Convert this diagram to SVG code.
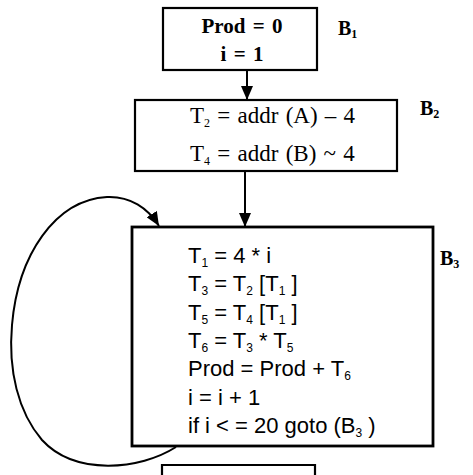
<svg xmlns="http://www.w3.org/2000/svg" width="473" height="475" viewBox="0 0 473 475">
<defs>
<style>
.box{fill:#fff;stroke:#000;stroke-width:2.2}
.edge{fill:none;stroke:#000;stroke-width:2}
.b1{font-family:"Liberation Serif",serif;font-weight:bold;font-size:21px;fill:#000;word-spacing:2px}
.b2{font-family:"Liberation Serif",serif;font-size:23px;fill:#000;word-spacing:1.5px}
.b3{font-family:"Liberation Sans",sans-serif;font-size:22px;fill:#000}
.lab{font-family:"Liberation Serif",serif;font-weight:bold;font-size:20px;fill:#000}
.sub{font-size:12px}
</style>
<marker id="ah" viewBox="0 0 14 12" refX="14" refY="6" markerWidth="14" markerHeight="12" markerUnits="userSpaceOnUse" orient="auto">
<path d="M0,0 L14,6 L0,12 Z" fill="#000"/>
</marker>
</defs>
<rect width="473" height="475" fill="#fff"/>
<g id="connectors">
<line class="edge" x1="247" y1="70" x2="247" y2="100" marker-end="url(#ah)"/>
<line class="edge" x1="245" y1="171" x2="245" y2="227" marker-end="url(#ah)"/>
<path class="edge" d="M176,447 C140,470 75,476 42,440 C18,412 8,370 12,325 C18,255 55,200 107,197 C130,196 148,208 159,226" marker-end="url(#ah)"/>
</g>
<g id="B1">
<rect class="box" x="163" y="8" width="154" height="62"/>
<text class="b1" x="242" y="33" text-anchor="middle">Prod = 0</text>
<text class="b1" x="242" y="61" text-anchor="middle">i = 1</text>
<text class="lab" x="338" y="35">B<tspan class="sub" dy="3">1</tspan></text>
</g>
<g id="B2">
<rect class="box" x="135" y="100" width="262" height="71"/>
<text class="b2" x="190" y="123">T<tspan class="sub" dy="4">2</tspan><tspan dy="-4"> = addr (A) – 4</tspan></text>
<text class="b2" x="190" y="161">T<tspan class="sub" dy="4">4</tspan><tspan dy="-4"> = addr (B) ~ 4</tspan></text>
<text class="lab" x="420" y="115">B<tspan class="sub" dy="3">2</tspan></text>
</g>
<g id="B3">
<rect class="box" x="132" y="227" width="301" height="219" style="stroke-width:2.8"/>
<text class="b3" x="188" y="263">T<tspan class="sub" dy="4">1</tspan><tspan dy="-4"> = 4 * i</tspan></text>
<text class="b3" x="188" y="291">T<tspan class="sub" dy="4">3</tspan><tspan dy="-4"> = T</tspan><tspan class="sub" dy="4">2</tspan><tspan dy="-4"> [T</tspan><tspan class="sub" dy="4">1</tspan><tspan dy="-4"> ]</tspan></text>
<text class="b3" x="188" y="320">T<tspan class="sub" dy="4">5</tspan><tspan dy="-4"> = T</tspan><tspan class="sub" dy="4">4</tspan><tspan dy="-4"> [T</tspan><tspan class="sub" dy="4">1</tspan><tspan dy="-4"> ]</tspan></text>
<text class="b3" x="188" y="348">T<tspan class="sub" dy="4">6</tspan><tspan dy="-4"> = T</tspan><tspan class="sub" dy="4">3</tspan><tspan dy="-4"> * T</tspan><tspan class="sub" dy="4">5</tspan></text>
<text class="b3" x="188" y="376">Prod = Prod + T<tspan class="sub" dy="4">6</tspan></text>
<text class="b3" x="188" y="405">i = i + 1</text>
<text class="b3" x="188" y="433">if i &lt; = 20 goto (B<tspan class="sub" dy="4">3</tspan><tspan dy="-4"> )</tspan></text>
<text class="lab" x="440" y="265">B<tspan class="sub" dy="3">3</tspan></text>
</g>
<g id="B4">
<path class="box" d="M162,476 V465 H315 V476" style="fill:none"/>
</g>
</svg>
